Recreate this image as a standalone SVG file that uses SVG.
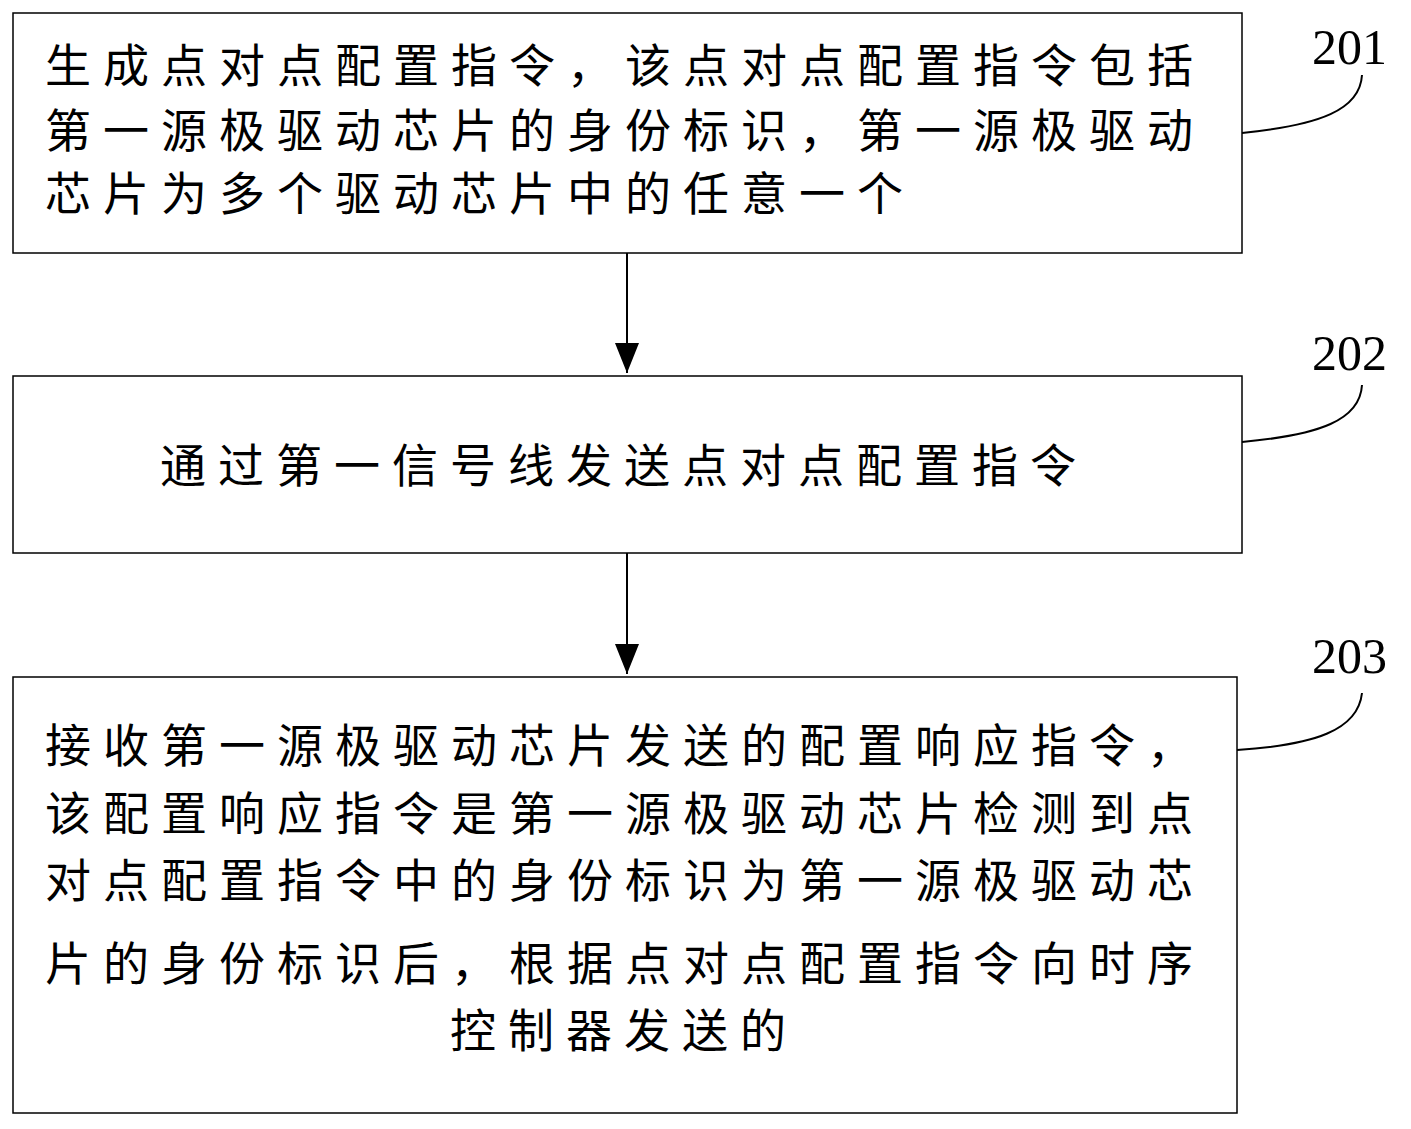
<svg xmlns="http://www.w3.org/2000/svg" width="1411" height="1129" viewBox="0 0 1411 1129">
<style>
.b{fill:#fff;stroke:#000;stroke-width:1.5}
.t{font-family:"Noto Sans CJK SC",sans-serif;font-size:46px;letter-spacing:12px;fill:#000}
.n{font-family:"Liberation Serif",serif;font-size:50px;fill:#000}
.c{fill:none;stroke:#000;stroke-width:2}
</style>
<defs><marker id="a" markerWidth="30" markerHeight="24" refX="30" refY="12" orient="auto" markerUnits="userSpaceOnUse"><path d="M0,0L30,12L0,24Z" fill="#000"/></marker></defs>
<rect width="1411" height="1129" fill="#fff"/>
<g id="n201"><rect class="b" x="13" y="13" width="1229" height="240"/>
<text class="t" x="45" y="82">生成点对点配置指令，该点对点配置指令包括</text>
<text class="t" x="45" y="147">第一源极驱动芯片的身份标识，第一源极驱动</text>
<text class="t" x="45" y="210">芯片为多个驱动芯片中的任意一个</text>
<text class="n" x="1312" y="64">201</text></g>
<g id="n202"><rect class="b" x="13" y="376" width="1229" height="177"/>
<text class="t" x="160" y="482">通过第一信号线发送点对点配置指令</text>
<text class="n" x="1312" y="370">202</text></g>
<g id="n203"><rect class="b" x="13" y="677" width="1224" height="436"/>
<text class="t" x="45" y="762">接收第一源极驱动芯片发送的配置响应指令，</text>
<text class="t" x="45" y="830">该配置响应指令是第一源极驱动芯片检测到点</text>
<text class="t" x="45" y="897">对点配置指令中的身份标识为第一源极驱动芯</text>
<text class="t" x="45" y="980">片的身份标识后，根据点对点配置指令向时序</text>
<text class="t" x="450" y="1047">控制器发送的</text>
<text class="n" x="1312" y="673">203</text></g>
<g id="connectors">
<line class="c" x1="627" y1="253" x2="627" y2="373" marker-end="url(#a)"/>
<line class="c" x1="627" y1="553" x2="627" y2="674" marker-end="url(#a)"/>
<path class="c" d="M1242,133 C1320,125 1360,110 1362,75"/>
<path class="c" d="M1242,442 C1320,435 1360,420 1362,385"/>
<path class="c" d="M1237,750 C1315,745 1358,730 1362,693"/>
</g>
</svg>
